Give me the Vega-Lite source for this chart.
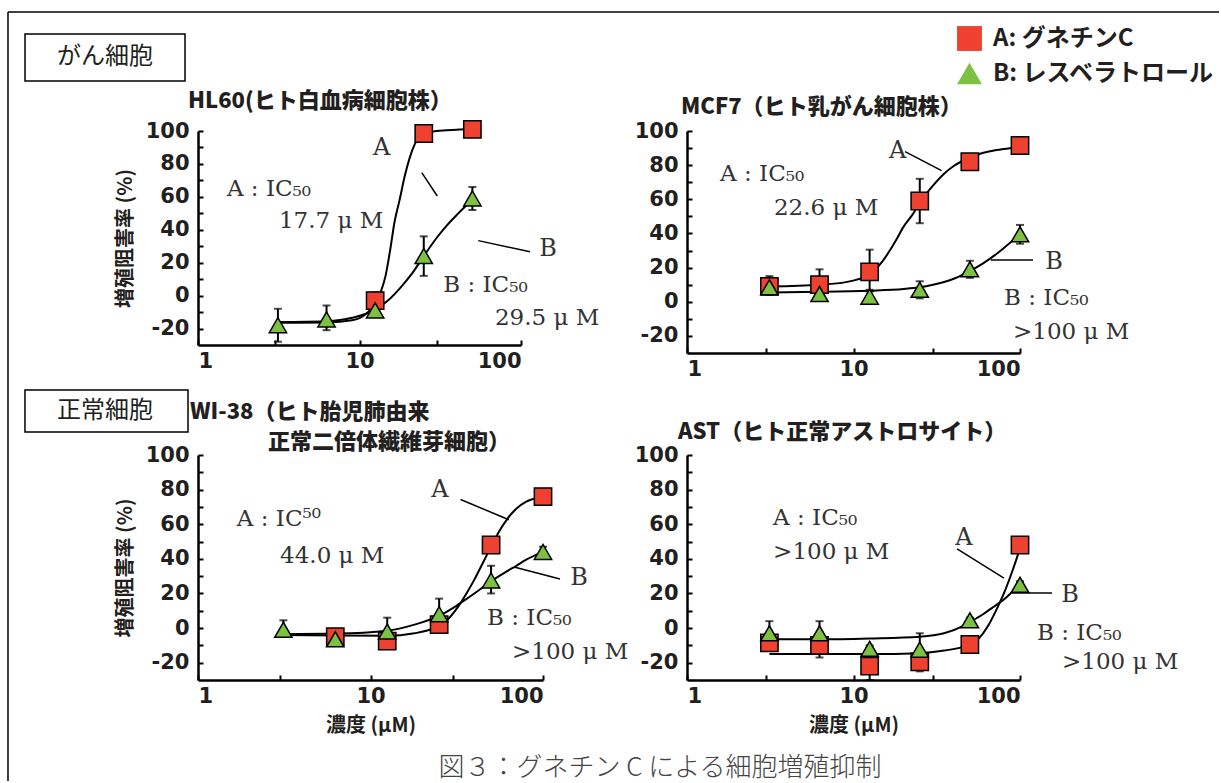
{
"$schema":"https://vega.github.io/schema/vega-lite/v6.json",
"background":"white",
"padding":{"left":7,"top":11,"right":0,"bottom":0},
"bounds":"flush",
"columns":2,
"spacing":{"row":102,"column":144},
"config":{
 "view":{"stroke":null},
 "axis":{"grid":false,"domainColor":"#000","domainWidth":2.5,"tickColor":"#000","tickWidth":2,"tickSize":-5,"labelFont":"DejaVu Sans","labelFontWeight":"bold","labelFontSize":21,"labelColor":"#231f20","titleFont":"Noto Sans CJK JP","titleFontWeight":"bold","titleFontSize":20,"titleColor":"#231f20"},
 "axisY":{"labelPadding":14,"titlePadding":10},
 "axisX":{"labelPadding":10,"titlePadding":9},
 "legend":{"labelFont":"Noto Sans CJK JP","labelFontWeight":"bold","labelFontSize":24,"labelColor":"#231f20","labelLimit":400,"symbolSize":620,"symbolStrokeColor":"#000","symbolStrokeWidth":1.5,"rowPadding":5,"labelOffset":10,"padding":0}
},
"datasets":{
 "points":[
  {"panel":"p1","cmp":"A: グネチンC","conc":12.5,"val":-3,"lo":-8,"hi":2},
  {"panel":"p1","cmp":"A: グネチンC","conc":25,"val":98.5,"lo":97,"hi":100},
  {"panel":"p1","cmp":"A: グネチンC","conc":50,"val":101,"lo":100,"hi":102},
  {"panel":"p1","cmp":"B: レスベラトロール","conc":3.125,"val":-18,"lo":-28,"hi":-8},
  {"panel":"p1","cmp":"B: レスベラトロール","conc":6.25,"val":-14.5,"lo":-21,"hi":-6},
  {"panel":"p1","cmp":"B: レスベラトロール","conc":12.5,"val":-9,"lo":-11,"hi":-7},
  {"panel":"p1","cmp":"B: レスベラトロール","conc":25,"val":24,"lo":12,"hi":36},
  {"panel":"p1","cmp":"B: レスベラトロール","conc":50,"val":59,"lo":52,"hi":66},
  {"panel":"p2","cmp":"A: グネチンC","conc":3.125,"val":9,"lo":4,"hi":15},
  {"panel":"p2","cmp":"A: グネチンC","conc":6.25,"val":10,"lo":5,"hi":19},
  {"panel":"p2","cmp":"A: グネチンC","conc":12.5,"val":17.5,"lo":6,"hi":30.5},
  {"panel":"p2","cmp":"A: グネチンC","conc":25,"val":59,"lo":46,"hi":72},
  {"panel":"p2","cmp":"A: グネチンC","conc":50,"val":82,"lo":80,"hi":84},
  {"panel":"p2","cmp":"A: グネチンC","conc":100,"val":91.5,"lo":88,"hi":96},
  {"panel":"p2","cmp":"B: レスベラトロール","conc":3.125,"val":8.5,"lo":4,"hi":14},
  {"panel":"p2","cmp":"B: レスベラトロール","conc":6.25,"val":4.5,"lo":1,"hi":8},
  {"panel":"p2","cmp":"B: レスベラトロール","conc":12.5,"val":3,"lo":-1,"hi":7},
  {"panel":"p2","cmp":"B: レスベラトロール","conc":25,"val":7,"lo":2,"hi":12},
  {"panel":"p2","cmp":"B: レスベラトロール","conc":50,"val":19,"lo":14,"hi":24},
  {"panel":"p2","cmp":"B: レスベラトロール","conc":100,"val":39.5,"lo":34,"hi":45},
  {"panel":"p3","cmp":"A: グネチンC","conc":6.25,"val":-5,"lo":-6,"hi":-4},
  {"panel":"p3","cmp":"A: グネチンC","conc":12.5,"val":-7.5,"lo":-9,"hi":-6},
  {"panel":"p3","cmp":"A: グネチンC","conc":25,"val":2,"lo":0,"hi":4},
  {"panel":"p3","cmp":"A: グネチンC","conc":50,"val":48,"lo":46,"hi":50},
  {"panel":"p3","cmp":"A: グネチンC","conc":100,"val":76,"lo":74,"hi":78},
  {"panel":"p3","cmp":"B: レスベラトロール","conc":3.125,"val":-1,"lo":-4.5,"hi":4.5},
  {"panel":"p3","cmp":"B: レスベラトロール","conc":6.25,"val":-6.5,"lo":-8,"hi":-5},
  {"panel":"p3","cmp":"B: レスベラトロール","conc":12.5,"val":-2,"lo":-9,"hi":6},
  {"panel":"p3","cmp":"B: レスベラトロール","conc":25,"val":8,"lo":-1,"hi":17},
  {"panel":"p3","cmp":"B: レスベラトロール","conc":50,"val":27.5,"lo":20,"hi":36},
  {"panel":"p3","cmp":"B: レスベラトロール","conc":100,"val":44,"lo":41,"hi":47},
  {"panel":"p4","cmp":"A: グネチンC","conc":3.125,"val":-8.5,"lo":-12,"hi":-5},
  {"panel":"p4","cmp":"A: グネチンC","conc":6.25,"val":-10,"lo":-17,"hi":-5},
  {"panel":"p4","cmp":"A: グネチンC","conc":12.5,"val":-22,"lo":-30,"hi":-15},
  {"panel":"p4","cmp":"A: グネチンC","conc":25,"val":-19.5,"lo":-25,"hi":-15},
  {"panel":"p4","cmp":"A: グネチンC","conc":50,"val":-9.5,"lo":-11,"hi":-8},
  {"panel":"p4","cmp":"A: グネチンC","conc":100,"val":48,"lo":44,"hi":52},
  {"panel":"p4","cmp":"B: レスベラトロール","conc":3.125,"val":-3,"lo":-10,"hi":4},
  {"panel":"p4","cmp":"B: レスベラトロール","conc":6.25,"val":-3,"lo":-10,"hi":4},
  {"panel":"p4","cmp":"B: レスベラトロール","conc":12.5,"val":-12,"lo":-14,"hi":-10},
  {"panel":"p4","cmp":"B: レスベラトロール","conc":25,"val":-12.5,"lo":-19,"hi":-3},
  {"panel":"p4","cmp":"B: レスベラトロール","conc":50,"val":4.5,"lo":3,"hi":6},
  {"panel":"p4","cmp":"B: レスベラトロール","conc":100,"val":25,"lo":23,"hi":27}
 ],
 "curves":[
  {"panel":"p1","cmp":"A","conc":3.125,"val":-16.5},{"panel":"p1","cmp":"A","conc":6.25,"val":-16.3},{"panel":"p1","cmp":"A","conc":9,"val":-15},{"panel":"p1","cmp":"A","conc":11,"val":-11},{"panel":"p1","cmp":"A","conc":12.5,"val":-5},{"panel":"p1","cmp":"A","conc":13.5,"val":2},{"panel":"p1","cmp":"A","conc":14.5,"val":12},{"panel":"p1","cmp":"A","conc":15.5,"val":28},{"panel":"p1","cmp":"A","conc":16.5,"val":45},{"panel":"p1","cmp":"A","conc":17.7,"val":58},{"panel":"p1","cmp":"A","conc":19,"val":72},{"panel":"p1","cmp":"A","conc":20.5,"val":84},{"panel":"p1","cmp":"A","conc":22,"val":92},{"panel":"p1","cmp":"A","conc":25,"val":98},{"panel":"p1","cmp":"A","conc":30,"val":100},{"panel":"p1","cmp":"A","conc":40,"val":100.8},{"panel":"p1","cmp":"A","conc":50,"val":101.2},
  {"panel":"p1","cmp":"B","conc":3.125,"val":-16},{"panel":"p1","cmp":"B","conc":6.25,"val":-15.5},{"panel":"p1","cmp":"B","conc":9,"val":-13.5},{"panel":"p1","cmp":"B","conc":12.5,"val":-8.5},{"panel":"p1","cmp":"B","conc":15,"val":-3},{"panel":"p1","cmp":"B","conc":18,"val":5},{"panel":"p1","cmp":"B","conc":21,"val":13},{"panel":"p1","cmp":"B","conc":25,"val":24},{"panel":"p1","cmp":"B","conc":30,"val":35},{"panel":"p1","cmp":"B","conc":35,"val":43},{"panel":"p1","cmp":"B","conc":40,"val":49},{"panel":"p1","cmp":"B","conc":45,"val":54},{"panel":"p1","cmp":"B","conc":50,"val":58},
  {"panel":"p2","cmp":"A","conc":3.125,"val":9},{"panel":"p2","cmp":"A","conc":6.25,"val":10},{"panel":"p2","cmp":"A","conc":9,"val":11.5},{"panel":"p2","cmp":"A","conc":12.5,"val":16},{"panel":"p2","cmp":"A","conc":15,"val":24},{"panel":"p2","cmp":"A","conc":18,"val":36},{"panel":"p2","cmp":"A","conc":20,"val":44},{"panel":"p2","cmp":"A","conc":22.6,"val":51},{"panel":"p2","cmp":"A","conc":25,"val":58},{"panel":"p2","cmp":"A","conc":30,"val":68},{"panel":"p2","cmp":"A","conc":35,"val":75},{"panel":"p2","cmp":"A","conc":40,"val":79.5},{"panel":"p2","cmp":"A","conc":50,"val":84.5},{"panel":"p2","cmp":"A","conc":65,"val":88},{"panel":"p2","cmp":"A","conc":80,"val":89.5},{"panel":"p2","cmp":"A","conc":100,"val":90.5},
  {"panel":"p2","cmp":"B","conc":3.125,"val":5.5},{"panel":"p2","cmp":"B","conc":6.25,"val":5.8},{"panel":"p2","cmp":"B","conc":12.5,"val":6.5},{"panel":"p2","cmp":"B","conc":20,"val":7.5},{"panel":"p2","cmp":"B","conc":25,"val":8.5},{"panel":"p2","cmp":"B","conc":30,"val":10},{"panel":"p2","cmp":"B","conc":40,"val":13.5},{"panel":"p2","cmp":"B","conc":50,"val":18},{"panel":"p2","cmp":"B","conc":60,"val":22.5},{"panel":"p2","cmp":"B","conc":70,"val":27},{"panel":"p2","cmp":"B","conc":80,"val":31.5},{"panel":"p2","cmp":"B","conc":100,"val":39.5},
  {"panel":"p3","cmp":"A","conc":3.125,"val":-4},{"panel":"p3","cmp":"A","conc":6.25,"val":-4.3},{"panel":"p3","cmp":"A","conc":12.5,"val":-4.5},{"panel":"p3","cmp":"A","conc":18,"val":-3},{"panel":"p3","cmp":"A","conc":22,"val":-1},{"panel":"p3","cmp":"A","conc":25,"val":1.5},{"panel":"p3","cmp":"A","conc":28,"val":5},{"panel":"p3","cmp":"A","conc":32,"val":12},{"panel":"p3","cmp":"A","conc":36,"val":20},{"panel":"p3","cmp":"A","conc":40,"val":28},{"panel":"p3","cmp":"A","conc":45,"val":38},{"panel":"p3","cmp":"A","conc":50,"val":47},{"panel":"p3","cmp":"A","conc":55,"val":55},{"panel":"p3","cmp":"A","conc":62,"val":63},{"panel":"p3","cmp":"A","conc":70,"val":69},{"panel":"p3","cmp":"A","conc":80,"val":73},{"panel":"p3","cmp":"A","conc":100,"val":76},
  {"panel":"p3","cmp":"B","conc":3.125,"val":-3.5},{"panel":"p3","cmp":"B","conc":6.25,"val":-3.2},{"panel":"p3","cmp":"B","conc":12.5,"val":-1.5},{"panel":"p3","cmp":"B","conc":18,"val":2},{"panel":"p3","cmp":"B","conc":25,"val":7},{"panel":"p3","cmp":"B","conc":30,"val":11.5},{"panel":"p3","cmp":"B","conc":35,"val":16},{"panel":"p3","cmp":"B","conc":40,"val":20},{"panel":"p3","cmp":"B","conc":50,"val":27},{"panel":"p3","cmp":"B","conc":60,"val":32},{"panel":"p3","cmp":"B","conc":70,"val":36},{"panel":"p3","cmp":"B","conc":80,"val":39.5},{"panel":"p3","cmp":"B","conc":100,"val":44},
  {"panel":"p4","cmp":"A","conc":3.125,"val":-15},{"panel":"p4","cmp":"A","conc":6.25,"val":-15},{"panel":"p4","cmp":"A","conc":12.5,"val":-15},{"panel":"p4","cmp":"A","conc":25,"val":-14.5},{"panel":"p4","cmp":"A","conc":35,"val":-13},{"panel":"p4","cmp":"A","conc":45,"val":-11},{"panel":"p4","cmp":"A","conc":50,"val":-9.5},{"panel":"p4","cmp":"A","conc":55,"val":-7},{"panel":"p4","cmp":"A","conc":60,"val":-3},{"panel":"p4","cmp":"A","conc":65,"val":2},{"panel":"p4","cmp":"A","conc":70,"val":8},{"panel":"p4","cmp":"A","conc":75,"val":14},{"panel":"p4","cmp":"A","conc":80,"val":20},{"panel":"p4","cmp":"A","conc":90,"val":33},{"panel":"p4","cmp":"A","conc":100,"val":46},
  {"panel":"p4","cmp":"B","conc":3.125,"val":-6.5},{"panel":"p4","cmp":"B","conc":6.25,"val":-6.5},{"panel":"p4","cmp":"B","conc":12.5,"val":-6},{"panel":"p4","cmp":"B","conc":25,"val":-5},{"panel":"p4","cmp":"B","conc":35,"val":-3},{"panel":"p4","cmp":"B","conc":45,"val":1},{"panel":"p4","cmp":"B","conc":50,"val":3.5},{"panel":"p4","cmp":"B","conc":60,"val":8},{"panel":"p4","cmp":"B","conc":70,"val":12.5},{"panel":"p4","cmp":"B","conc":80,"val":16.5},{"panel":"p4","cmp":"B","conc":90,"val":21},{"panel":"p4","cmp":"B","conc":100,"val":25}
 ],
 "lines":[
  {"panel":"p1","conc":0.0666,"val":172.3,"conc2":2100000,"val2":172.3},
  {"panel":"p1","conc":0.0666,"val":172.3,"conc2":0.0666,"val2":-294.9},
  {"panel":"p1","conc":24.3,"val":74.7,"conc2":30.3,"val2":60.5},
  {"panel":"p1","conc":54.4,"val":33.4,"conc2":113.7,"val2":26.7},
  {"panel":"p2","conc":20.4,"val":87.9,"conc2":33.8,"val2":76.8},
  {"panel":"p2","conc":66.7,"val":24.5,"conc2":119.7,"val2":24.5},
  {"panel":"p3","conc":33.3,"val":74.3,"conc2":63.4,"val2":62.6},
  {"panel":"p3","conc":67.9,"val":35.3,"conc2":125.5,"val2":28.4},
  {"panel":"p4","conc":41.9,"val":45.7,"conc2":80.1,"val2":28.9},
  {"panel":"p4","conc":89.5,"val":20.3,"conc2":155.6,"val2":20.3}
 ],
 "boxes":[
  {"panel":"p1","conc":0.0849,"conc2":0.831,"val":158.9,"val2":130.4},
  {"panel":"p3","conc":0.0993,"conc2":0.875,"val":137.6,"val2":113.3}
 ],
 "notes":[
  {"panel":"p1","kind":"ttl","conc":0.867,"val":118.2,"text":"HL60(ヒト白血病細胞株）"},
  {"panel":"p1","kind":"main","conc":1.51,"val":65,"text":"A : IC₅₀"},
  {"panel":"p1","kind":"main","conc":3.17,"val":45.3,"text":"17.7 μ M"},
  {"panel":"p1","kind":"main","conc":33,"val":6.4,"text":"B : IC₅₀"},
  {"panel":"p1","kind":"main","conc":69,"val":-13.6,"text":"29.5 μ M"},
  {"panel":"p1","kind":"lab","conc":13.7,"val":89.5,"text":"A"},
  {"panel":"p1","kind":"lab","conc":147,"val":28.3,"text":"B"},
  {"panel":"p1","kind":"box","conc":0.2655,"val":144.7,"text":"がん細胞"},
  {"panel":"p2","kind":"ttl","conc":0.92,"val":114.1,"text":"MCF7（ヒト乳がん細胞株）"},
  {"panel":"p2","kind":"main","conc":1.58,"val":74.8,"text":"A : IC₅₀"},
  {"panel":"p2","kind":"main","conc":3.33,"val":55.2,"text":"22.6 μ M"},
  {"panel":"p2","kind":"main","conc":80.2,"val":2.2,"text":"B : IC₅₀"},
  {"panel":"p2","kind":"main","conc":90.8,"val":-17.7,"text":">100 μ M"},
  {"panel":"p2","kind":"lab","conc":18.4,"val":88.5,"text":"A"},
  {"panel":"p2","kind":"lab","conc":160,"val":23.3,"text":"B"},
  {"panel":"p3","kind":"ttl","conc":0.899,"val":124.8,"text":"WI-38（ヒト胎児肺由来"},
  {"panel":"p3","kind":"ttl","conc":2.545,"val":107.5,"text":"正常二倍体繊維芽細胞）"},
  {"panel":"p3","kind":"main","conc":1.68,"val":63,"text":"A : IC⁵⁰"},
  {"panel":"p3","kind":"main","conc":2.99,"val":41.6,"text":"44.0 μ M"},
  {"panel":"p3","kind":"main","conc":47.4,"val":5.8,"text":"B : IC₅₀"},
  {"panel":"p3","kind":"main","conc":66.1,"val":-13.8,"text":">100 μ M"},
  {"panel":"p3","kind":"lab","conc":25.3,"val":79.8,"text":"A"},
  {"panel":"p3","kind":"lab","conc":161.7,"val":28.9,"text":"B"},
  {"panel":"p3","kind":"box","conc":0.289,"val":125.4,"text":"正常細胞"},
  {"panel":"p3","kind":"cap","conc":477,"val":-80.8,"text":"図３：グネチン C による細胞増殖抑制"},
  {"panel":"p4","kind":"ttl","conc":0.883,"val":113.3,"text":"AST（ヒト正常アストロサイト）"},
  {"panel":"p4","kind":"main","conc":3.29,"val":63.6,"text":"A : IC₅₀"},
  {"panel":"p4","kind":"main","conc":3.29,"val":44,"text":">100 μ M"},
  {"panel":"p4","kind":"main","conc":126.5,"val":-2.8,"text":"B : IC₅₀"},
  {"panel":"p4","kind":"main","conc":178.7,"val":-19.6,"text":">100 μ M"},
  {"panel":"p4","kind":"lab","conc":46.1,"val":52,"text":"A"},
  {"panel":"p4","kind":"lab","conc":199.7,"val":19.1,"text":"B"}
 ]
},
"concat":[
 {
  "width":323,"height":214,
  "encoding":{
   "x":{"field":"conc","type":"quantitative","scale":{"type":"log","domain":[1,100],"nice":false},"title":null,"axis":{"values":[1,3,10,30,100],"labelExpr":"(datum.value===1||datum.value===10||datum.value===100) ? ''+datum.value : ''"}},
   "y":{"field":"val","type":"quantitative","scale":{"domain":[-30,100],"nice":false,"zero":false},"title":"増殖阻害率 (%)","axis":{"values":[-20,-10,0,10,20,30,40,50,60,70,80,90,100],"labelExpr":"datum.value % 20 === 0 ? ''+datum.value : ''"}}
  },
  "layer":[
   {"data":{"name":"lines"},"transform":[{"filter":"datum.panel==='p1'"}],"mark":{"type":"rule","color":"#000","strokeWidth":1.5},"encoding":{"x2":{"field":"conc2"},"y2":{"field":"val2"}}},
   {"data":{"name":"boxes"},"transform":[{"filter":"datum.panel==='p1'"}],"mark":{"type":"rect","fill":"white","stroke":"#000","strokeWidth":1.5},"encoding":{"x2":{"field":"conc2"},"y2":{"field":"val2"}}},
   {"data":{"name":"points"},"transform":[{"filter":"datum.panel==='p1'"}],"mark":{"type":"rule","color":"#000","strokeWidth":2},"encoding":{"y":{"field":"lo","type":"quantitative","scale":{"domain":[-30,100],"nice":false,"zero":false},"title":"増殖阻害率 (%)"},"y2":{"field":"hi"}}},
   {"data":{"name":"points"},"transform":[{"filter":"datum.panel==='p1'"}],"mark":{"type":"tick","color":"#000","thickness":2,"size":8,"orient":"horizontal"},"encoding":{"y":{"field":"lo","type":"quantitative","scale":{"domain":[-30,100],"nice":false,"zero":false},"title":"増殖阻害率 (%)"}}},
   {"data":{"name":"points"},"transform":[{"filter":"datum.panel==='p1'"}],"mark":{"type":"tick","color":"#000","thickness":2,"size":8,"orient":"horizontal"},"encoding":{"y":{"field":"hi","type":"quantitative","scale":{"domain":[-30,100],"nice":false,"zero":false},"title":"増殖阻害率 (%)"}}},
   {"data":{"name":"curves"},"transform":[{"filter":"datum.panel==='p1'"}],"mark":{"type":"line","color":"#000","strokeWidth":2,"interpolate":"monotone"},"encoding":{"detail":{"field":"cmp"}}},
   {"data":{"name":"points"},"transform":[{"filter":"datum.panel==='p1'"}],"mark":{"type":"point","filled":true,"opacity":1,"stroke":"#000","strokeWidth":1.5,"size":300},"encoding":{"fill":{"field":"cmp","type":"nominal","scale":{"domain":["A: グネチンC","B: レスベラトロール"],"range":["#EF4130","#7DC142"]},"legend":{"title":null,"orient":"none","legendX":758,"legendY":-106}},"shape":{"field":"cmp","type":"nominal","scale":{"domain":["A: グネチンC","B: レスベラトロール"],"range":["square","triangle-up"]},"legend":{"title":null,"orient":"none","legendX":758,"legendY":-106}}}},
   {"data":{"name":"notes"},"transform":[{"filter":"datum.panel==='p1' && datum.kind==='main'"}],"mark":{"type":"text","font":"DejaVu Serif","fontSize":23,"align":"left","baseline":"middle","color":"#333"},"encoding":{"text":{"field":"text"}}},
   {"data":{"name":"notes"},"transform":[{"filter":"datum.panel==='p1' && datum.kind==='lab'"}],"mark":{"type":"text","font":"DejaVu Serif","fontSize":24,"align":"center","baseline":"middle","color":"#333"},"encoding":{"text":{"field":"text"}}},
   {"data":{"name":"notes"},"transform":[{"filter":"datum.panel==='p1' && datum.kind==='ttl'"}],"mark":{"type":"text","font":"Noto Sans CJK JP","fontSize":22,"fontWeight":900,"align":"left","baseline":"middle","color":"#231f20"},"encoding":{"text":{"field":"text"}}},
   {"data":{"name":"notes"},"transform":[{"filter":"datum.panel==='p1' && datum.kind==='box'"}],"mark":{"type":"text","font":"Noto Sans CJK JP","fontSize":24,"align":"center","baseline":"middle","color":"#231f20"},"encoding":{"text":{"field":"text"}}}
  ]
 },
 {
  "width":333,"height":222,
  "encoding":{
   "x":{"field":"conc","type":"quantitative","scale":{"type":"log","domain":[1,100],"nice":false},"title":null,"axis":{"values":[1,3,10,30,100],"labelExpr":"(datum.value===1||datum.value===10||datum.value===100) ? ''+datum.value : ''"}},
   "y":{"field":"val","type":"quantitative","scale":{"domain":[-30,100],"nice":false,"zero":false},"title":null,"axis":{"values":[-20,-10,0,10,20,30,40,50,60,70,80,90,100],"labelExpr":"datum.value % 20 === 0 ? ''+datum.value : ''"}}
  },
  "layer":[
   {"data":{"name":"lines"},"transform":[{"filter":"datum.panel==='p2'"}],"mark":{"type":"rule","color":"#000","strokeWidth":1.5},"encoding":{"x2":{"field":"conc2"},"y2":{"field":"val2"}}},
   {"data":{"name":"points"},"transform":[{"filter":"datum.panel==='p2'"}],"mark":{"type":"rule","color":"#000","strokeWidth":2},"encoding":{"y":{"field":"lo","type":"quantitative","scale":{"domain":[-30,100],"nice":false,"zero":false},"title":null},"y2":{"field":"hi"}}},
   {"data":{"name":"points"},"transform":[{"filter":"datum.panel==='p2'"}],"mark":{"type":"tick","color":"#000","thickness":2,"size":8,"orient":"horizontal"},"encoding":{"y":{"field":"lo","type":"quantitative","scale":{"domain":[-30,100],"nice":false,"zero":false},"title":null}}},
   {"data":{"name":"points"},"transform":[{"filter":"datum.panel==='p2'"}],"mark":{"type":"tick","color":"#000","thickness":2,"size":8,"orient":"horizontal"},"encoding":{"y":{"field":"hi","type":"quantitative","scale":{"domain":[-30,100],"nice":false,"zero":false},"title":null}}},
   {"data":{"name":"curves"},"transform":[{"filter":"datum.panel==='p2'"}],"mark":{"type":"line","color":"#000","strokeWidth":2,"interpolate":"monotone"},"encoding":{"detail":{"field":"cmp"}}},
   {"data":{"name":"points"},"transform":[{"filter":"datum.panel==='p2'"}],"mark":{"type":"point","filled":true,"opacity":1,"stroke":"#000","strokeWidth":1.5,"size":300},"encoding":{"fill":{"field":"cmp","type":"nominal","scale":{"domain":["A: グネチンC","B: レスベラトロール"],"range":["#EF4130","#7DC142"]},"legend":{"title":null,"orient":"none","legendX":758,"legendY":-106}},"shape":{"field":"cmp","type":"nominal","scale":{"domain":["A: グネチンC","B: レスベラトロール"],"range":["square","triangle-up"]},"legend":{"title":null,"orient":"none","legendX":758,"legendY":-106}}}},
   {"data":{"name":"notes"},"transform":[{"filter":"datum.panel==='p2' && datum.kind==='main'"}],"mark":{"type":"text","font":"DejaVu Serif","fontSize":23,"align":"left","baseline":"middle","color":"#333"},"encoding":{"text":{"field":"text"}}},
   {"data":{"name":"notes"},"transform":[{"filter":"datum.panel==='p2' && datum.kind==='lab'"}],"mark":{"type":"text","font":"DejaVu Serif","fontSize":24,"align":"center","baseline":"middle","color":"#333"},"encoding":{"text":{"field":"text"}}},
   {"data":{"name":"notes"},"transform":[{"filter":"datum.panel==='p2' && datum.kind==='ttl'"}],"mark":{"type":"text","font":"Noto Sans CJK JP","fontSize":22,"fontWeight":900,"align":"left","baseline":"middle","color":"#231f20"},"encoding":{"text":{"field":"text"}}}
  ]
 },
 {
  "width":345,"height":225,
  "encoding":{
   "x":{"field":"conc","type":"quantitative","scale":{"type":"log","domain":[1,100],"nice":false},"title":"濃度 (μM)","axis":{"values":[1,3,10,30,100],"labelExpr":"(datum.value===1||datum.value===10||datum.value===100) ? ''+datum.value : ''"}},
   "y":{"field":"val","type":"quantitative","scale":{"domain":[-30,100],"nice":false,"zero":false},"title":"増殖阻害率 (%)","axis":{"values":[-20,-10,0,10,20,30,40,50,60,70,80,90,100],"labelExpr":"datum.value % 20 === 0 ? ''+datum.value : ''"}}
  },
  "layer":[
   {"data":{"name":"lines"},"transform":[{"filter":"datum.panel==='p3'"}],"mark":{"type":"rule","color":"#000","strokeWidth":1.5},"encoding":{"x2":{"field":"conc2"},"y2":{"field":"val2"}}},
   {"data":{"name":"boxes"},"transform":[{"filter":"datum.panel==='p3'"}],"mark":{"type":"rect","fill":"white","stroke":"#000","strokeWidth":1.5},"encoding":{"x2":{"field":"conc2"},"y2":{"field":"val2"}}},
   {"data":{"name":"points"},"transform":[{"filter":"datum.panel==='p3'"}],"mark":{"type":"rule","color":"#000","strokeWidth":2},"encoding":{"y":{"field":"lo","type":"quantitative","scale":{"domain":[-30,100],"nice":false,"zero":false},"title":"増殖阻害率 (%)"},"y2":{"field":"hi"}}},
   {"data":{"name":"points"},"transform":[{"filter":"datum.panel==='p3'"}],"mark":{"type":"tick","color":"#000","thickness":2,"size":8,"orient":"horizontal"},"encoding":{"y":{"field":"lo","type":"quantitative","scale":{"domain":[-30,100],"nice":false,"zero":false},"title":"増殖阻害率 (%)"}}},
   {"data":{"name":"points"},"transform":[{"filter":"datum.panel==='p3'"}],"mark":{"type":"tick","color":"#000","thickness":2,"size":8,"orient":"horizontal"},"encoding":{"y":{"field":"hi","type":"quantitative","scale":{"domain":[-30,100],"nice":false,"zero":false},"title":"増殖阻害率 (%)"}}},
   {"data":{"name":"curves"},"transform":[{"filter":"datum.panel==='p3'"}],"mark":{"type":"line","color":"#000","strokeWidth":2,"interpolate":"monotone"},"encoding":{"detail":{"field":"cmp"}}},
   {"data":{"name":"points"},"transform":[{"filter":"datum.panel==='p3'"}],"mark":{"type":"point","filled":true,"opacity":1,"stroke":"#000","strokeWidth":1.5,"size":300},"encoding":{"fill":{"field":"cmp","type":"nominal","scale":{"domain":["A: グネチンC","B: レスベラトロール"],"range":["#EF4130","#7DC142"]},"legend":{"title":null,"orient":"none","legendX":758,"legendY":-106}},"shape":{"field":"cmp","type":"nominal","scale":{"domain":["A: グネチンC","B: レスベラトロール"],"range":["square","triangle-up"]},"legend":{"title":null,"orient":"none","legendX":758,"legendY":-106}}}},
   {"data":{"name":"notes"},"transform":[{"filter":"datum.panel==='p3' && datum.kind==='main'"}],"mark":{"type":"text","font":"DejaVu Serif","fontSize":23,"align":"left","baseline":"middle","color":"#333"},"encoding":{"text":{"field":"text"}}},
   {"data":{"name":"notes"},"transform":[{"filter":"datum.panel==='p3' && datum.kind==='lab'"}],"mark":{"type":"text","font":"DejaVu Serif","fontSize":24,"align":"center","baseline":"middle","color":"#333"},"encoding":{"text":{"field":"text"}}},
   {"data":{"name":"notes"},"transform":[{"filter":"datum.panel==='p3' && datum.kind==='ttl'"}],"mark":{"type":"text","font":"Noto Sans CJK JP","fontSize":22,"fontWeight":900,"align":"left","baseline":"middle","color":"#231f20"},"encoding":{"text":{"field":"text"}}},
   {"data":{"name":"notes"},"transform":[{"filter":"datum.panel==='p3' && datum.kind==='box'"}],"mark":{"type":"text","font":"Noto Sans CJK JP","fontSize":24,"align":"center","baseline":"middle","color":"#231f20"},"encoding":{"text":{"field":"text"}}},
   {"data":{"name":"notes"},"transform":[{"filter":"datum.panel==='p3' && datum.kind==='cap'"}],"mark":{"type":"text","font":"Noto Sans CJK JP","fontSize":26,"fontWeight":300,"align":"center","baseline":"middle","color":"#444"},"encoding":{"text":{"field":"text"}}}
  ]
 },
 {
  "width":333,"height":225,
  "encoding":{
   "x":{"field":"conc","type":"quantitative","scale":{"type":"log","domain":[1,100],"nice":false},"title":"濃度 (μM)","axis":{"values":[1,3,10,30,100],"labelExpr":"(datum.value===1||datum.value===10||datum.value===100) ? ''+datum.value : ''"}},
   "y":{"field":"val","type":"quantitative","scale":{"domain":[-30,100],"nice":false,"zero":false},"title":null,"axis":{"values":[-20,-10,0,10,20,30,40,50,60,70,80,90,100],"labelExpr":"datum.value % 20 === 0 ? ''+datum.value : ''"}}
  },
  "layer":[
   {"data":{"name":"lines"},"transform":[{"filter":"datum.panel==='p4'"}],"mark":{"type":"rule","color":"#000","strokeWidth":1.5},"encoding":{"x2":{"field":"conc2"},"y2":{"field":"val2"}}},
   {"data":{"name":"points"},"transform":[{"filter":"datum.panel==='p4'"}],"mark":{"type":"rule","color":"#000","strokeWidth":2},"encoding":{"y":{"field":"lo","type":"quantitative","scale":{"domain":[-30,100],"nice":false,"zero":false},"title":null},"y2":{"field":"hi"}}},
   {"data":{"name":"points"},"transform":[{"filter":"datum.panel==='p4'"}],"mark":{"type":"tick","color":"#000","thickness":2,"size":8,"orient":"horizontal"},"encoding":{"y":{"field":"lo","type":"quantitative","scale":{"domain":[-30,100],"nice":false,"zero":false},"title":null}}},
   {"data":{"name":"points"},"transform":[{"filter":"datum.panel==='p4'"}],"mark":{"type":"tick","color":"#000","thickness":2,"size":8,"orient":"horizontal"},"encoding":{"y":{"field":"hi","type":"quantitative","scale":{"domain":[-30,100],"nice":false,"zero":false},"title":null}}},
   {"data":{"name":"curves"},"transform":[{"filter":"datum.panel==='p4'"}],"mark":{"type":"line","color":"#000","strokeWidth":2,"interpolate":"monotone"},"encoding":{"detail":{"field":"cmp"}}},
   {"data":{"name":"points"},"transform":[{"filter":"datum.panel==='p4'"}],"mark":{"type":"point","filled":true,"opacity":1,"stroke":"#000","strokeWidth":1.5,"size":300},"encoding":{"fill":{"field":"cmp","type":"nominal","scale":{"domain":["A: グネチンC","B: レスベラトロール"],"range":["#EF4130","#7DC142"]},"legend":{"title":null,"orient":"none","legendX":758,"legendY":-106}},"shape":{"field":"cmp","type":"nominal","scale":{"domain":["A: グネチンC","B: レスベラトロール"],"range":["square","triangle-up"]},"legend":{"title":null,"orient":"none","legendX":758,"legendY":-106}}}},
   {"data":{"name":"notes"},"transform":[{"filter":"datum.panel==='p4' && datum.kind==='main'"}],"mark":{"type":"text","font":"DejaVu Serif","fontSize":23,"align":"left","baseline":"middle","color":"#333"},"encoding":{"text":{"field":"text"}}},
   {"data":{"name":"notes"},"transform":[{"filter":"datum.panel==='p4' && datum.kind==='lab'"}],"mark":{"type":"text","font":"DejaVu Serif","fontSize":24,"align":"center","baseline":"middle","color":"#333"},"encoding":{"text":{"field":"text"}}},
   {"data":{"name":"notes"},"transform":[{"filter":"datum.panel==='p4' && datum.kind==='ttl'"}],"mark":{"type":"text","font":"Noto Sans CJK JP","fontSize":22,"fontWeight":900,"align":"left","baseline":"middle","color":"#231f20"},"encoding":{"text":{"field":"text"}}}
  ]
 }
]
}
